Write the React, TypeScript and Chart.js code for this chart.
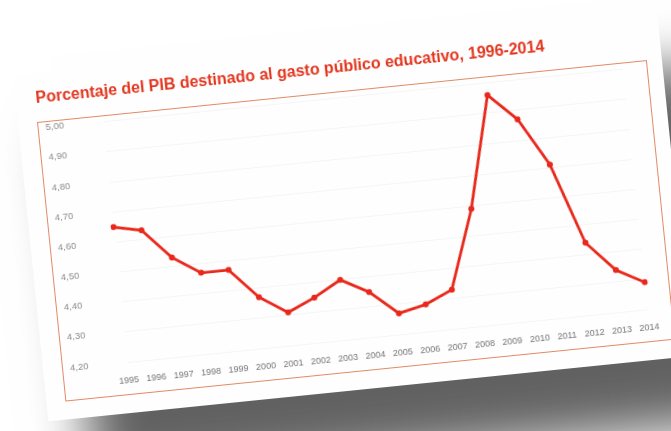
import React, { useEffect, useRef } from "react";
import { Chart, registerables } from "chart.js";

Chart.register(...registerables);

const title = "Porcentaje del PIB destinado al gasto público educativo, 1996-2014";
const years = [
  "1995", "1996", "1997", "1998", "1999", "2000", "2001", "2002", "2003", "2004",
  "2005", "2006", "2007", "2008", "2009", "2010", "2011", "2012", "2013", "2014",
];
const gastoPIB = [
  4.65, 4.63, 4.53, 4.47, 4.47, 4.37, 4.31, 4.35, 4.4, 4.35,
  4.27, 4.29, 4.33, 4.59, 4.96, 4.87, 4.71, 4.44, 4.34, 4.29,
];
const yMin = 4.2;
const yMax = 5.0;
const yStep = 0.1;

const RED = "#e8281b";
const TITLE_RED = "#e3361f";
const FONT = '"Liberation Sans", Arial, sans-serif';

export default function App() {
  const ref = useRef<HTMLCanvasElement | null>(null);

  useEffect(() => {
    if (!ref.current) return;
    const chart = new Chart(ref.current, {
      type: "line",
      data: {
        labels: years,
        datasets: [
          {
            data: gastoPIB,
            borderColor: RED,
            backgroundColor: RED,
            borderWidth: 2.8,
            pointRadius: 3,
            pointHoverRadius: 3,
            pointBorderWidth: 0,
            tension: 0,
            fill: false,
          },
        ],
      },
      options: {
        responsive: false,
        animation: false,
        maintainAspectRatio: false,
        layout: { padding: { left: 7, right: 20, top: 5.6, bottom: 7 } },
        plugins: {
          legend: { display: false },
          tooltip: { enabled: false },
          title: { display: false },
        },
        scales: {
          x: {
            afterFit: (s: any) => {
              s.height = 25;
            },
            grid: { display: false, drawTicks: false },
            border: { display: false },
            ticks: {
              color: "#747474",
              font: { family: FONT, size: 9 },
              padding: 13.5,
              maxRotation: 0,
              minRotation: 0,
              autoSkip: false,
            },
          },
          y: {
            min: yMin,
            max: yMax,
            afterFit: (s: any) => {
              s.width = 57.5;
            },
            grid: { color: "rgba(0,0,0,0.035)", drawTicks: false },
            border: { display: false },
            ticks: {
              stepSize: yStep,
              crossAlign: "far",
              padding: 0,
              color: "#8a8a8a",
              font: { family: FONT, size: 9.5 },
              callback: (v: any) => Number(v).toFixed(2).replace(".", ","),
            },
          },
        },
      },
    });
    return () => chart.destroy();
  }, []);

  return (
    <div
      style={{
        position: "fixed",
        left: 0,
        top: 0,
        width: 671,
        height: 431,
        overflow: "hidden",
        background: "#ffffff",
      }}
    >
      <div
        style={{
          position: "absolute",
          left: 17.7,
          top: 72.7,
          width: 647,
          height: 348,
          background: "#fefefe",
          transform: "rotate(-5.8deg)",
          transformOrigin: "19px 49px",
          boxShadow: "45px 65px 50px 5px rgba(0,0,0,0.62)",
          filter: "blur(0.4px)",
        }}
      >
        <div
          style={{
            position: "absolute",
            left: 20,
            top: 17.2,
            font: `bold 16px ${FONT}`,
            lineHeight: "16px",
            color: TITLE_RED,
            whiteSpace: "nowrap",
          }}
        >
          {title}
        </div>
        <div
          style={{
            position: "absolute",
            left: 19,
            top: 49,
            width: 613,
            height: 281,
            border: "1px solid #e08a66",
            boxSizing: "border-box",
          }}
        >
          <canvas ref={ref} width={611} height={279} style={{ display: "block" }} />
        </div>
      </div>
    </div>
  );
}
